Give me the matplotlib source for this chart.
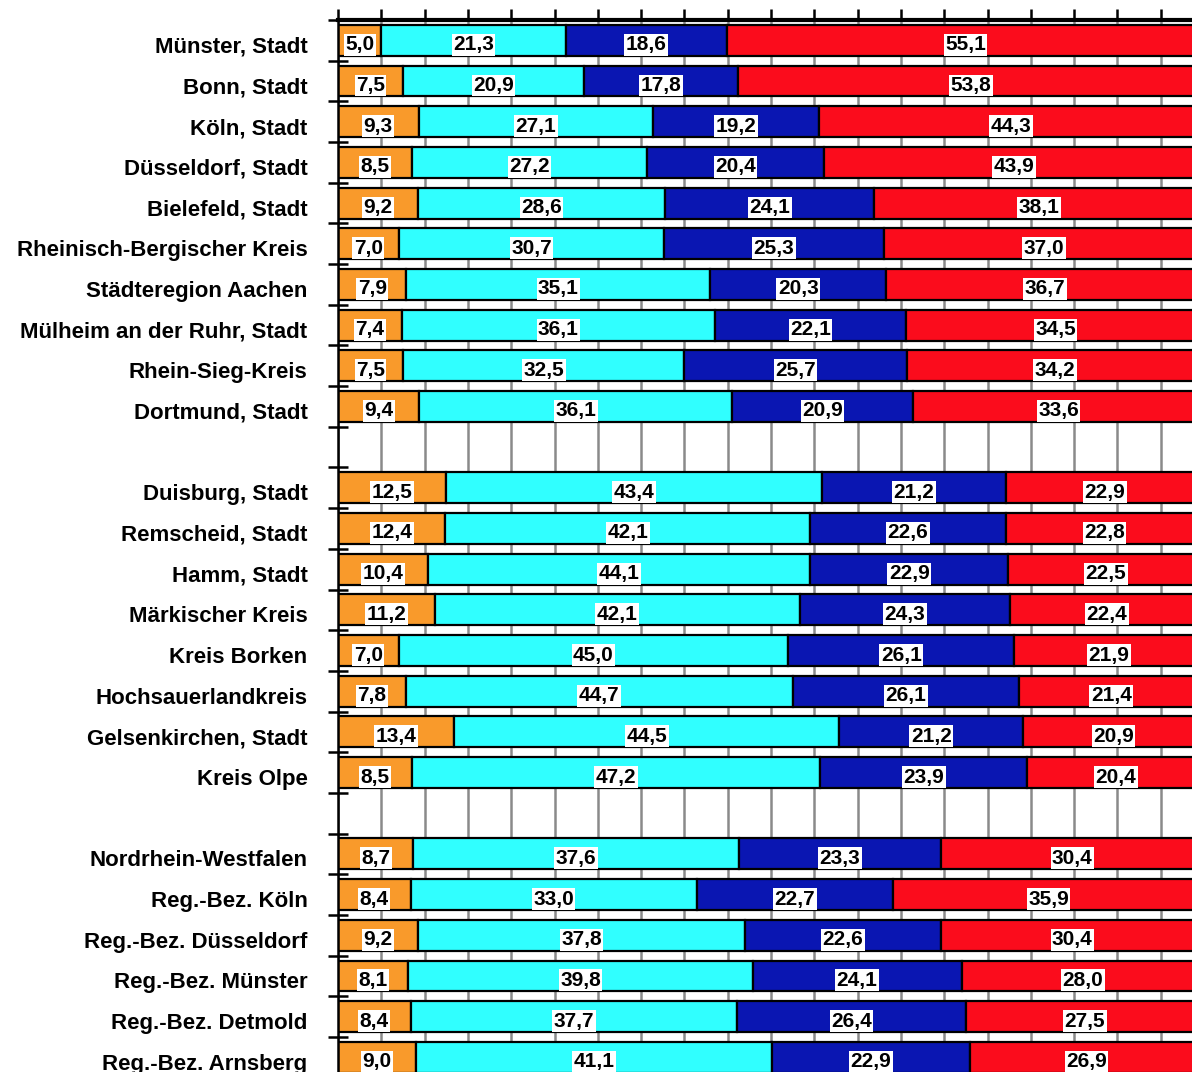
import matplotlib
matplotlib.use("Agg")
import matplotlib.pyplot as plt
import numpy as np
from matplotlib.ticker import MultipleLocator, FixedLocator

plt.rcParams['font.family'] = ['Liberation Sans', 'DejaVu Sans']

# None = empty spacer row
regions = ["Münster, Stadt", "Bonn, Stadt", "Köln, Stadt", "Düsseldorf, Stadt",
           "Bielefeld, Stadt", "Rheinisch-Bergischer Kreis", "Städteregion Aachen",
           "Mülheim an der Ruhr, Stadt", "Rhein-Sieg-Kreis", "Dortmund, Stadt",
           None,
           "Duisburg, Stadt", "Remscheid, Stadt", "Hamm, Stadt", "Märkischer Kreis",
           "Kreis Borken", "Hochsauerlandkreis", "Gelsenkirchen, Stadt", "Kreis Olpe",
           None,
           "Nordrhein-Westfalen", "Reg.-Bez. Köln", "Reg.-Bez. Düsseldorf",
           "Reg.-Bez. Münster", "Reg.-Bez. Detmold", "Reg.-Bez. Arnsberg"]

orange = [5.0, 7.5, 9.3, 8.5, 9.2, 7.0, 7.9, 7.4, 7.5, 9.4, None,
          12.5, 12.4, 10.4, 11.2, 7.0, 7.8, 13.4, 8.5, None,
          8.7, 8.4, 9.2, 8.1, 8.4, 9.0]
cyan = [21.3, 20.9, 27.1, 27.2, 28.6, 30.7, 35.1, 36.1, 32.5, 36.1, None,
        43.4, 42.1, 44.1, 42.1, 45.0, 44.7, 44.5, 47.2, None,
        37.6, 33.0, 37.8, 39.8, 37.7, 41.1]
blue = [18.6, 17.8, 19.2, 20.4, 24.1, 25.3, 20.3, 22.1, 25.7, 20.9, None,
        21.2, 22.6, 22.9, 24.3, 26.1, 26.1, 21.2, 23.9, None,
        23.3, 22.7, 22.6, 24.1, 26.4, 22.9]
red = [55.1, 53.8, 44.3, 43.9, 38.1, 37.0, 36.7, 34.5, 34.2, 33.6, None,
       22.9, 22.8, 22.5, 22.4, 21.9, 21.4, 20.9, 20.4, None,
       30.4, 35.9, 30.4, 28.0, 27.5, 26.9]

colors = ['#F99A2B', '#30FFFF', '#0A16B2', '#FB0C1C']

fig = plt.figure(figsize=(11.92, 10.72), dpi=100)
n = len(regions)
ax = fig.add_axes([338/1192, 1 - (20 + n*40.68)/1072, 866/1192, n*40.68/1072])

rows = [i for i in range(n) if regions[i] is not None]
left = np.zeros(len(rows))
for series, c in zip([orange, cyan, blue, red], colors):
    vals = np.array([series[i] for i in rows])
    ax.barh(rows, vals, left=left, height=0.76, color=c, edgecolor='black',
            linewidth=1.6, zorder=2)
    for y, l, v in zip(rows, left, vals):
        ax.text(l + v/2, y + 0.11, f"{v:.1f}".replace('.', ','), ha='center',
                va='center', fontsize=15, fontweight='bold', color='black', zorder=3,
                bbox=dict(facecolor='white', edgecolor='none', pad=1.0))
    left = left + vals

ax.set_xlim(0, 100)
ax.set_ylim(n - 0.5, -0.5)
ax.xaxis.set_major_locator(MultipleLocator(5))
ax.xaxis.tick_top()
ax.tick_params(axis='x', direction='out', length=8, width=1.8, labeltop=False,
               labelbottom=False, bottom=False)
ax.grid(axis='x', color='#8a8a8a', linewidth=1.8)
ax.set_axisbelow(True)

# labels sit a bit lower than the bar centres in the original
ax.yaxis.set_major_locator(FixedLocator([r + 0.11 for r in rows]))
ax.set_yticklabels([regions[i] for i in rows], fontsize=16, fontweight='bold')
ax.yaxis.set_minor_locator(FixedLocator(np.arange(-0.5, n, 1)))
ax.tick_params(axis='y', which='major', length=0, pad=22)
ax.tick_params(axis='y', which='minor', direction='inout', length=14, width=1.8)

ax.spines['top'].set_linewidth(3)
ax.spines['left'].set_linewidth(1.8)
ax.spines['right'].set_visible(False)
ax.spines['bottom'].set_visible(False)

fig.savefig("out.png", dpi=100)
